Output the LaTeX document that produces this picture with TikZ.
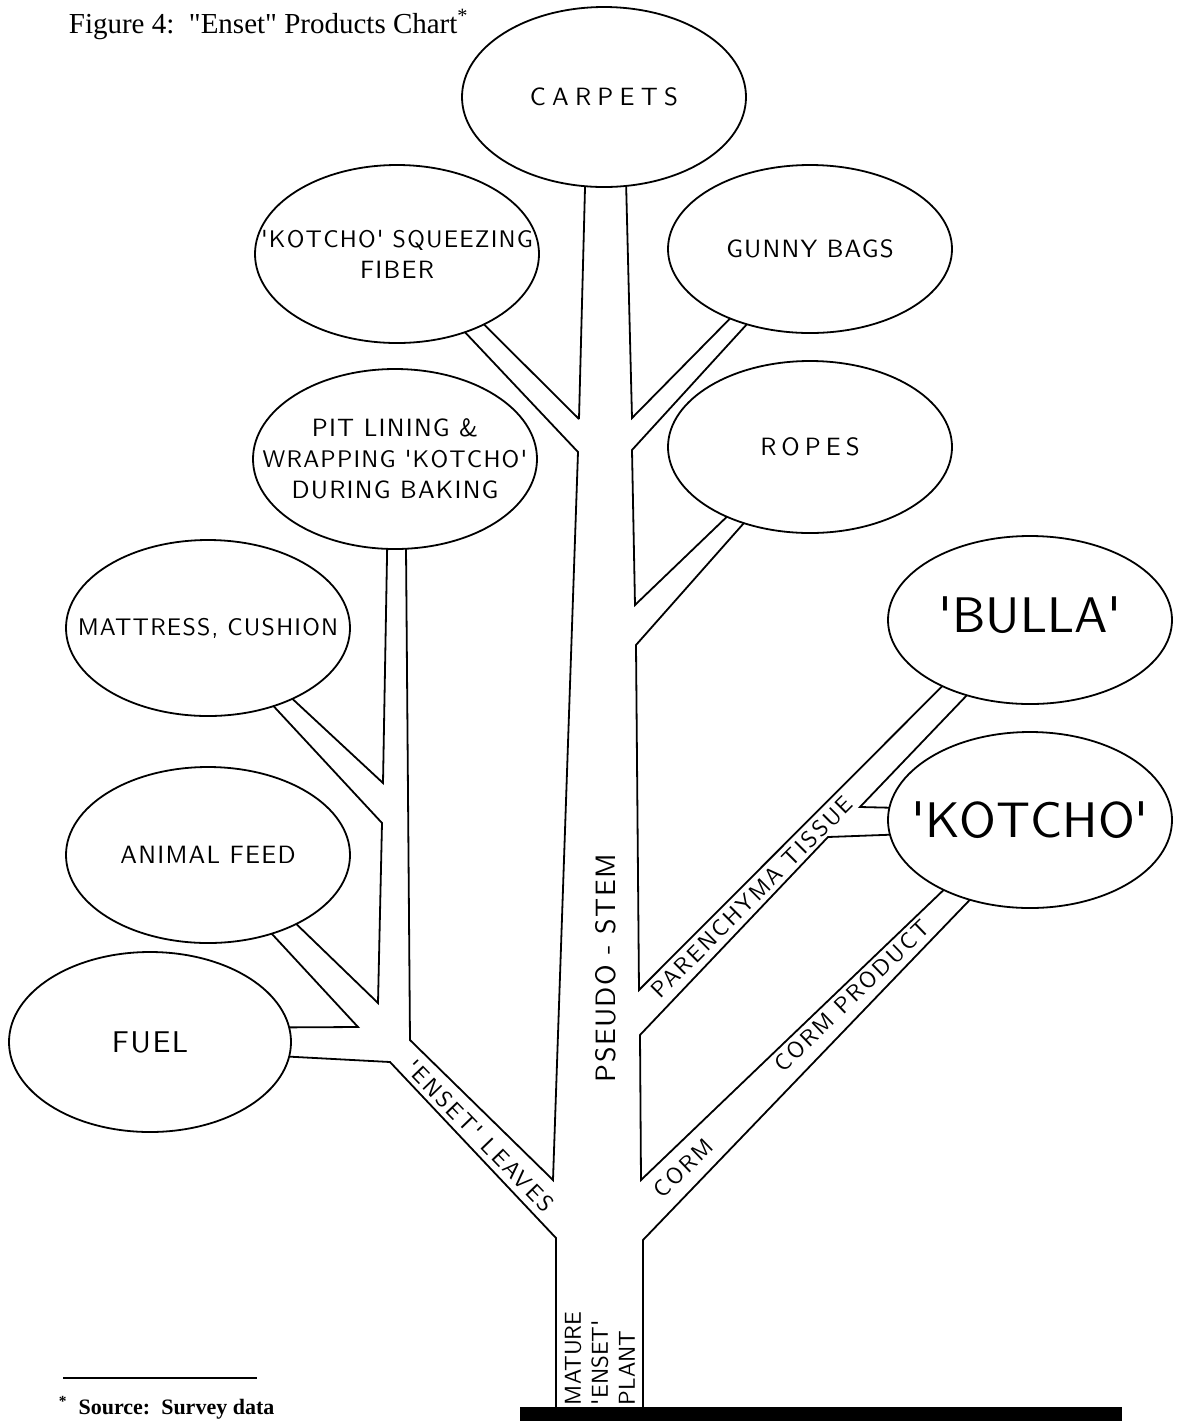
\documentclass[tikz,border=0pt]{standalone}
\usepackage{fontspec}
\usetikzlibrary{shapes.geometric}
\newfontfamily\titlefont{Liberation Serif}[Ligatures=TeXOff]
\newfontfamily\letterfont{lmsans10-regular}[Extension=.otf, Ligatures=TeXOff]
\newcommand\ls[1]{\addfontfeature{LetterSpace=#1}}

\begin{document}
\begin{tikzpicture}[x=0.5pt, y=-0.5pt, line width=0.9pt,
 product/.style = {draw, ellipse, inner sep=0pt, outer sep=0pt,
                   minimum width=142pt, minimum height=#1},
 product/.default = 88pt,
 prodtext/.style = {inner sep=0pt, align=center,
                    font=\letterfont\fontsize{12.5}{15.5}\selectfont\ls{5}},
 bigtext/.style = {inner sep=0pt, font=\letterfont\fontsize{25}{30}\selectfont},
 tubetext/.style = {inner sep=0pt, font=\letterfont\fontsize{11.5}{14}\selectfont\ls{10}}
                    ]
\useasboundingbox (0,0) rectangle (1183,1421);
% title
\node[anchor=base west, inner sep=0pt, font=\titlefont\fontsize{14.5}{17}\selectfont]
    (title) at (68,33) {Figure 4:\ \ "Enset" Products Chart\textsuperscript{*}};
% products
\node[product=90pt] (carpets)  at (604,97)   {};
\node[product=89pt] (squeeze)  at (397,254)  {};
\node[product=84pt] (gunny)    at (810,249)  {};
\node[product=90pt] (pit)      at (395,459)  {};
\node[product=86pt] (ropes)    at (810,447)  {};
\node[product=88pt] (mattress) at (208,628)  {};
\node[product=84pt] (bulla)    at (1030,620) {};
\node[product=88pt] (feed)     at (208,855)  {};
\node[product=88pt] (kotcho)   at (1030,820) {};
\node[product=90pt, minimum width=141pt] (fuel) at (150,1042) {};
% product names
\node[prodtext] (carpets-t)  at (carpets)  {\ls{25}CARPETS};
\node[prodtext] (squeeze-t)  at (squeeze)  {\fontsize{12}{15}\selectfont 'KOTCHO' SQUEEZING\\FIBER};
\node[prodtext] (gunny-t)    at (gunny)    {GUNNY BAGS};
\node[prodtext] (pit-t)      at (pit)      {PIT LINING \&\\\fontsize{12}{15.5}\selectfont WRAPPING 'KOTCHO'\\DURING BAKING};
\node[prodtext] (ropes-t)    at (ropes)    {\ls{20}ROPES};
\node[prodtext] (mattress-t) at (mattress) {\fontsize{12}{15}\selectfont MATTRESS, CUSHION};
\node[prodtext] (feed-t)     at (feed)     {ANIMAL FEED};
\node[prodtext] (fuel-t)     at (fuel)     {\fontsize{15}{18}\selectfont FUEL};
\node[bigtext]  (bulla-t)    at (1030,615) {'BULLA'};
\node[bigtext]  (kotcho-t)   at (kotcho)   {'KOTCHO'};
% junctions
\coordinate (sqz in)    at (579,419);
\coordinate (sqz out)   at (578,452);
\coordinate (gun in)    at (632,418);
\coordinate (gun out)   at (632,450);
\coordinate (rop in)    at (635,605);
\coordinate (rop out)   at (636,645);
\coordinate (par up)    at (639,990);
\coordinate (par low)   at (640,1035);
\coordinate (corm up)   at (641,1180);
\coordinate (corm low)  at (643,1240);
\coordinate (leaf in)   at (553,1180);
\coordinate (leaf out)  at (556,1238);
\coordinate (leaf bend) at (410,1040);
\coordinate (mat in)    at (383,783);
\coordinate (mat out)   at (382,823);
\coordinate (feed in)   at (378,1003);
\coordinate (feed out)  at (358,1027);
\coordinate (fuel bend) at (390,1062);
\coordinate (bul bend)  at (860,807);
\coordinate (par bend)  at (828,837);
\coordinate (ground L)  at (556,1408);
\coordinate (ground R)  at (643,1408);
% pseudo-stem and right branches
\draw (carpets.258) -- (sqz in);
\draw (squeeze.-39) -- (sqz in);
\draw (squeeze.-49) -- (sqz out) -- (leaf in) -- (leaf bend) -- (pit.277);
\draw (carpets.284) -- (gun in) -- (gunny.221);
\draw (gunny.230) -- (gun out) -- (rop in) -- (ropes.220);
\draw (ropes.229) -- (rop out) -- (par up) -- (bulla.217);
\draw (bulla.230) -- (bul bend) -- (kotcho.175);
\draw (kotcho.186) -- (par bend) -- (par low) -- (corm up) -- (kotcho.219);
\draw (kotcho.233) -- (corm low) -- (ground R);
% leaves and left branches
\draw (pit.265) -- (mat in) -- (mattress.-40);
\draw (mattress.-50) -- (mat out) -- (feed in) -- (feed.-38);
\draw (feed.-51) -- (feed out) -- (fuel.6);
\draw (fuel.-6) -- (fuel bend) -- (leaf out) -- (ground L);
% tube names
\node[tubetext, rotate=-46] (leaves-t) at (480,1136) {'ENSET' LEAVES};
\node[tubetext, rotate=45]  (par-t)    at (752,897)  {PARENCHYMA TISSUE};
\node[tubetext, rotate=44]  (prod-t)   at (852,996)  {CORM PRODUCT};
\node[tubetext, rotate=44]  (corm-t)   at (683,1168) {CORM};
\node[tubetext, rotate=90, font=\letterfont\fontsize{14}{17}\selectfont\ls{5}]
    (stem-t) at (606,968) {PSEUDO - STEM};
\node[tubetext, rotate=90, align=left, anchor=west, font=\letterfont\fontsize{11.5}{13.5}\selectfont]
    (plant-t) at (600,1406) {MATURE\\'ENSET'\\PLANT};
% ground and footnote
\fill (520,1407) rectangle (1122,1421);
\draw (63,1378) -- (257,1378);
\node[anchor=base west, inner sep=0pt, font=\titlefont\bfseries\fontsize{11}{13}\selectfont]
    (source) at (58,1414) {\textsuperscript{*}\ \ Source:\ \ Survey data};
\end{tikzpicture}
\end{document}
